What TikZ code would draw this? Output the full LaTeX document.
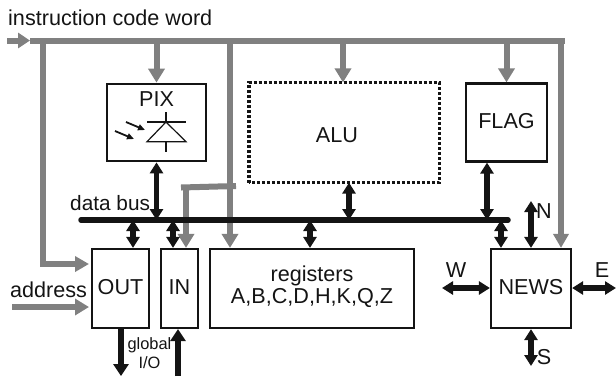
\documentclass[tikz,border=0pt]{standalone}
\usepackage{fontspec}
\setmainfont{Liberation Sans}
\usetikzlibrary{arrows.meta}
\definecolor{busgray}{HTML}{808080}
\definecolor{ink}{HTML}{141414}
\tikzset{
  x=1pt,y=-1pt,
  block/.style={draw=ink,line width=2.2pt,fill=white,minimum width=#1,inner sep=0pt,text=ink},
  lab/.style={font=\fontsize{21.6}{24}\selectfont,text=ink,inner sep=0pt},
  smalllab/.style={font=\fontsize{16.4}{19}\selectfont,text=ink,inner sep=0pt},
  graybus/.style={draw=busgray,line width=6pt},
  grayarrow/.style={draw=busgray,line width=6pt,-{Triangle[length=14pt,width=16pt]}},
  graythin/.style={draw=busgray,line width=6pt,-{Triangle[length=14pt,width=15pt]}},
  blackbus/.style={draw=ink,line width=5.5pt,line cap=round},
  blackone/.style={draw=ink,line width=6.5pt,-{Triangle[length=12pt,width=15pt]}},
  blacktwo/.style={draw=ink,line width=5.5pt,{Triangle[length=11pt,width=13pt]}-{Triangle[length=11pt,width=13pt]}},
}
\begin{document}
\begin{tikzpicture}
\useasboundingbox (0,0) rectangle (616,376);
% blocks
\node[block=99pt,minimum height=77.5pt] (pix) at (156.5,122.5) {};
\node[block=188pt,minimum height=98pt,draw=none] (alu) at (344,132.5) {};
\draw[draw=ink,line width=3.2pt,dash pattern=on 3pt off 2pt] (alu.south west) rectangle (alu.north east);
\node[block=81pt,minimum height=78pt] (flag) at (506.5,122.5) {};
\node[block=57pt,minimum height=79pt] (out) at (120.5,288.5) {};
\node[block=37pt,minimum height=79pt] (in) at (179.5,288.5) {};
\node[block=204pt,minimum height=79pt] (reg) at (312,288.5) {};
\node[block=80pt,minimum height=79pt] (news) at (531,288.5) {};
% block text
\node[lab] at (156.5,99.5) {PIX};
\node[lab] at (337,135) {ALU};
\node[lab] at (506.5,121.5) {FLAG};
\node[lab] at (120.5,287) {OUT};
\node[lab] at (179.5,287) {IN};
\node[lab] at (312,276) {registers};
\node[lab] at (312,298) {A,B,C,D,H,K,Q,Z};
\node[lab] at (531,287) {NEWS};
% named points
\coordinate (ibusL) at (7,40.5);
\coordinate (ibusH) at (30,40.5);
\coordinate (ibusR) at (565,40.5);
\coordinate (xleft) at (43,40.5);
\coordinate (xreg) at (230,40.5);
\coordinate (xnews) at (561,40.5);
\coordinate (outA) at (89,264);
\coordinate (addrS) at (12,307);
\coordinate (branchA) at (236,186);
\coordinate (branchB) at (181,187.5);
\coordinate (xin) at (186,187.5);
\coordinate (dbL) at (81,220);
\coordinate (dbR) at (508,220);
\coordinate (xaluG) at (343,40.5);
\coordinate (xaluB) at (349,220);
\coordinate (xflagB) at (487,220);
\coordinate (xoutB) at (133,220);
\coordinate (xinB) at (173,220);
\coordinate (xregB) at (310,220);
\coordinate (xnewsB) at (501,220);
\coordinate (nT) at (531,201);
\coordinate (wL) at (442,288);
\coordinate (eR) at (616,288);
\coordinate (sB) at (531,366);
\coordinate (gB) at (121,376);
\coordinate (iB) at (178,376);
% instruction bus
\draw[graybus] (ibusH) -- (ibusR);
\draw[grayarrow,-{Triangle[length=12pt,width=15pt]}] (ibusL) -- (ibusH);
\draw[graythin] (xnews) -- (xnews |- news.north);
\draw[graythin] (xleft) -- (xleft |- outA) -- (outA);
\draw[grayarrow] (addrS) -- (addrS -| outA);
\draw[grayarrow] (pix.north |- ibusL) -- (pix.north);
\draw[grayarrow] (xreg) -- (xreg |- reg.north);
\draw[grayarrow] (xaluG) -- (xaluG |- alu.north);
\draw[grayarrow] (flag.north |- ibusL) -- (flag.north);
\draw[graybus] (branchA) -- (branchB);
\draw[grayarrow] (xin) -- (xin |- in.north);
% data bus
\draw[blackbus] (dbL) -- (dbR);
\draw[blacktwo] (pix.south) -- (pix.south |- dbL);
\draw[blacktwo] (xaluB |- alu.south) -- (xaluB);
\draw[blacktwo] (xflagB |- flag.south) -- (xflagB);
\draw[blacktwo] (xoutB) -- (xoutB |- out.north);
\draw[blacktwo] (xinB) -- (xinB |- in.north);
\draw[blacktwo] (xregB) -- (xregB |- reg.north);
\draw[blacktwo] (xnewsB) -- (xnewsB |- news.north);
% NEWS links
\draw[blacktwo] (nT) -- (nT |- news.north);
\draw[blacktwo] (sB) -- (sB |- news.south);
\draw[blacktwo] (wL) -- (wL -| news.west);
\draw[blacktwo] (eR) -- (eR -| news.east);
% global I/O
\draw[blackone] (gB |- out.south) -- (gB);
\draw[blackone] (iB) -- (iB |- in.south);
% diode
\coordinate (dA) at (166,122);
\draw[ink,line width=1.2pt] (147,122) -- (186,122);
\draw[ink,line width=1.2pt] (dA) -- (147,141.7) -- (186,141.7) -- cycle;
\draw[ink,line width=1.2pt] (166,112) -- (dA);
\draw[ink,line width=1.2pt] (166,141.7) -- (166,152);
\draw[ink,line width=1.8pt,-{Triangle[length=7pt,width=6pt]}] (126,122) -- (145,130);
\draw[ink,line width=1.8pt,-{Triangle[length=7pt,width=6pt]}] (115,131) -- (134,139);
% labels
\node[lab,anchor=west] at (8,18) {instruction code word};
\node[lab,anchor=west,font=\fontsize{20.8}{23}\selectfont] at (70,203) {data bus};
\node[lab,anchor=west] at (10,290) {address};
\node[smalllab] at (149.5,345) {global};
\node[smalllab] at (149.5,363) {I/O};
\node[lab] at (544,211) {N};
\node[lab] at (456,270) {W};
\node[lab] at (602,270) {E};
\node[lab] at (544,357) {S};
\end{tikzpicture}
\end{document}
